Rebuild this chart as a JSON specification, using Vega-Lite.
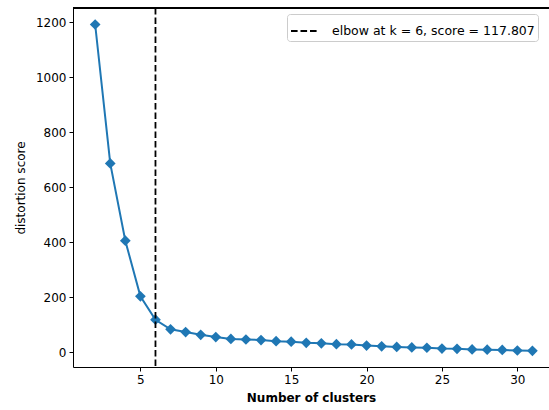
{
  "$schema": "https://vega.github.io/schema/vega-lite/v6.json",
  "autosize": {"type": "none"},
  "width": 476,
  "height": 359,
  "padding": {"left": 73, "top": 8, "right": 0, "bottom": 43},
  "background": "white",
  "config": {
    "view": {"stroke": null},
    "font": "DejaVu Sans",
    "axis": {
      "grid": false,
      "domainColor": "black",
      "domainWidth": 1,
      "tickColor": "black",
      "tickSize": 4,
      "labelPadding": 3,
      "labelFontSize": 12,
      "labelColor": "black",
      "labelFont": "DejaVu Sans",
      "titleFont": "DejaVu Sans",
      "titleFontSize": 12,
      "titleColor": "black"
    }
  },
  "data": {
    "values": [
      {"k": 2, "score": 1191},
      {"k": 3, "score": 686},
      {"k": 4, "score": 405},
      {"k": 5, "score": 203},
      {"k": 6, "score": 117.807},
      {"k": 7, "score": 83},
      {"k": 8, "score": 73},
      {"k": 9, "score": 63},
      {"k": 10, "score": 55},
      {"k": 11, "score": 48},
      {"k": 12, "score": 46},
      {"k": 13, "score": 44},
      {"k": 14, "score": 40},
      {"k": 15, "score": 38},
      {"k": 16, "score": 34},
      {"k": 17, "score": 32},
      {"k": 18, "score": 29},
      {"k": 19, "score": 28},
      {"k": 20, "score": 24},
      {"k": 21, "score": 21},
      {"k": 22, "score": 19},
      {"k": 23, "score": 17},
      {"k": 24, "score": 16},
      {"k": 25, "score": 13},
      {"k": 26, "score": 12},
      {"k": 27, "score": 10},
      {"k": 28, "score": 9},
      {"k": 29, "score": 8},
      {"k": 30, "score": 6},
      {"k": 31, "score": 5}
    ]
  },
  "layer": [
    {
      "mark": {"type": "rule", "color": "black", "strokeWidth": 1},
      "encoding": {"y": {"datum": 1251, "type": "quantitative"}}
    },
    {
      "mark": {"type": "line", "color": "#1f77b4", "strokeWidth": 2},
      "encoding": {
        "x": {
          "field": "k", "type": "quantitative",
          "scale": {"domain": [0.53, 32.1], "nice": false, "zero": false},
          "axis": {"values": [5, 10, 15, 20, 25, 30], "title": "Number of clusters", "titleFontWeight": "bold", "titlePadding": 7}
        },
        "y": {
          "field": "score", "type": "quantitative",
          "scale": {"domain": [-54, 1251], "nice": false, "zero": false},
          "axis": {"values": [0, 200, 400, 600, 800, 1000, 1200], "format": "d", "title": "distortion score", "titleFontWeight": "normal", "titlePadding": 8}
        }
      }
    },
    {
      "mark": {"type": "point", "shape": "diamond", "filled": true, "color": "#1f77b4", "size": 115, "opacity": 1},
      "encoding": {
        "x": {"field": "k", "type": "quantitative"},
        "y": {"field": "score", "type": "quantitative"}
      }
    },
    {
      "data": {"values": [{"k": 6, "label": "elbow at k = 6, score = 117.807"}]},
      "mark": {"type": "rule", "color": "black", "strokeWidth": 1.8},
      "encoding": {
        "x": {"field": "k", "type": "quantitative"},
        "strokeDash": {
          "field": "label", "type": "nominal",
          "scale": {"range": [[6.6, 2.9]]},
          "legend": {
            "title": null,
            "orient": "none",
            "legendX": 214,
            "legendY": 6,
            "symbolType": "stroke",
            "symbolStrokeColor": "black",
            "symbolStrokeWidth": 1.8,
            "symbolSize": 676,
            "symbolDash": [6.6, 2.9],
            "labelFontSize": 12.5,
            "labelFont": "DejaVu Sans",
            "labelColor": "black",
            "labelOffset": 14,
            "labelLimit": 0,
            "padding": 3,
            "strokeColor": "#cccccc",
            "fillColor": "rgba(255,255,255,0.8)",
            "cornerRadius": 3
          }
        }
      }
    }
  ]
}
